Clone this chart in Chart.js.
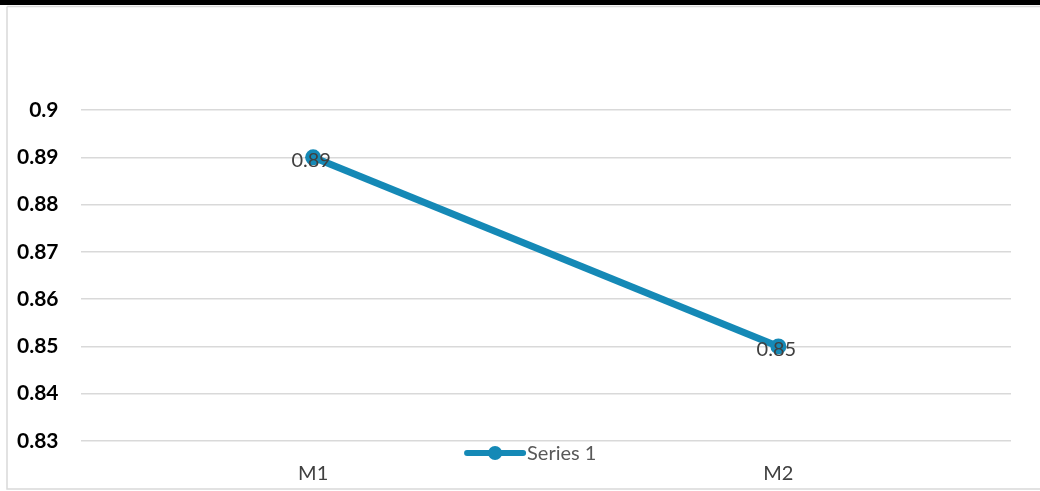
<!DOCTYPE html>
<html>
<head>
<meta charset="utf-8">
<script src="https://cdn.jsdelivr.net/npm/chart.js@4"></script>
<style>
html,body{margin:0;padding:0;background:#fff;}
#wrap{position:relative;width:1040px;height:491px;}
</style>
</head>
<body>
<div id="wrap"><canvas id="c" width="1040" height="491"></canvas></div>
<script>
const categories = ['M1', 'M2'];
const seriesName = 'Series 1';
const seriesValues = [0.89, 0.85];
const yTicks = [0.83, 0.84, 0.85, 0.86, 0.87, 0.88, 0.89, 0.9];

const lineColor = '#1589b6';
const fontFam = 'Lato, "Open Sans", sans-serif';

const framePlugin = {
  id: 'frame',
  beforeDraw(chart) {
    const ctx = chart.ctx;
    ctx.save();
    ctx.fillStyle = '#fff';
    ctx.fillRect(0, 0, chart.width, chart.height);
    ctx.fillStyle = '#000';
    ctx.fillRect(0, 0, chart.width, 5);
    ctx.strokeStyle = '#d9d9d9';
    ctx.lineWidth = 1.5;
    ctx.beginPath();
    ctx.moveTo(7, 6.5); ctx.lineTo(chart.width, 6.5);
    ctx.moveTo(7, 6.5); ctx.lineTo(7, 489);
    ctx.lineTo(chart.width, 489);
    ctx.stroke();
    ctx.restore();
  }
};

const labelPlugin = {
  id: 'dataLabels',
  afterDatasetsDraw(chart) {
    const ctx = chart.ctx;
    ctx.save();
    ctx.font = '20px ' + fontFam;
    ctx.fillStyle = '#404040';
    ctx.textAlign = 'center';
    ctx.textBaseline = 'middle';
    chart.data.datasets.forEach((ds, i) => {
      chart.getDatasetMeta(i).data.forEach((pt, j) => {
        ctx.fillText(String(ds.data[j]), pt.x - 2, pt.y + 3);
      });
    });
    ctx.restore();
  }
};

const legendPlugin = {
  id: 'customLegend',
  afterDraw(chart) {
    const ctx = chart.ctx;
    const ds = chart.data.datasets[0];
    const area = chart.chartArea;
    const y = area.bottom + 12;
    ctx.save();
    ctx.font = '20px ' + fontFam;
    const tw = ctx.measureText(ds.label).width;
    const total = 56 + 4 + tw;
    const x0 = (area.left + area.right) / 2 - 14 - total / 2;
    ctx.strokeStyle = ds.borderColor;
    ctx.lineWidth = 6;
    ctx.lineCap = 'round';
    ctx.beginPath();
    ctx.moveTo(x0, y); ctx.lineTo(x0 + 56, y);
    ctx.stroke();
    ctx.fillStyle = ds.borderColor;
    ctx.beginPath();
    ctx.arc(x0 + 28, y, 7, 0, Math.PI * 2);
    ctx.fill();
    ctx.fillStyle = '#595959';
    ctx.textAlign = 'left';
    ctx.textBaseline = 'middle';
    ctx.fillText(ds.label, x0 + 60, y + 1);
    ctx.restore();
  }
};

new Chart(document.getElementById('c'), {
  type: 'line',
  data: {
    labels: categories,
    datasets: [{
      label: seriesName,
      data: seriesValues,
      borderColor: lineColor,
      backgroundColor: lineColor,
      borderWidth: 7,
      pointRadius: 8,
      pointBackgroundColor: lineColor,
      pointBorderWidth: 0,
      tension: 0
    }]
  },
  options: {
    responsive: false,
    animation: false,
    devicePixelRatio: 1,
    layout: { padding: { top: 110, left: -5, right: 29, bottom: -16 } },
    plugins: { legend: { display: false }, tooltip: { enabled: false } },
    scales: {
      x: {
        offset: true,
        grid: { display: false, drawTicks: false },
        border: { display: false },
        ticks: { color: '#404040', font: { family: fontFam, size: 20 }, padding: 21 }
      },
      y: {
        min: yTicks[0],
        max: yTicks[yTicks.length - 1],
        afterBuildTicks(scale) { scale.ticks = yTicks.map(v => ({ value: v })); },
        grid: { color: '#d9d9d9', lineWidth: 1.5, drawTicks: false },
        border: { display: false },
        ticks: {
          color: '#000',
          font: { family: fontFam, size: 21, weight: 'bold' },
          padding: 22,
          callback: v => String(Math.round(v * 100) / 100)
        }
      }
    }
  },
  plugins: [framePlugin, labelPlugin, legendPlugin]
});
</script>
</body>
</html>
